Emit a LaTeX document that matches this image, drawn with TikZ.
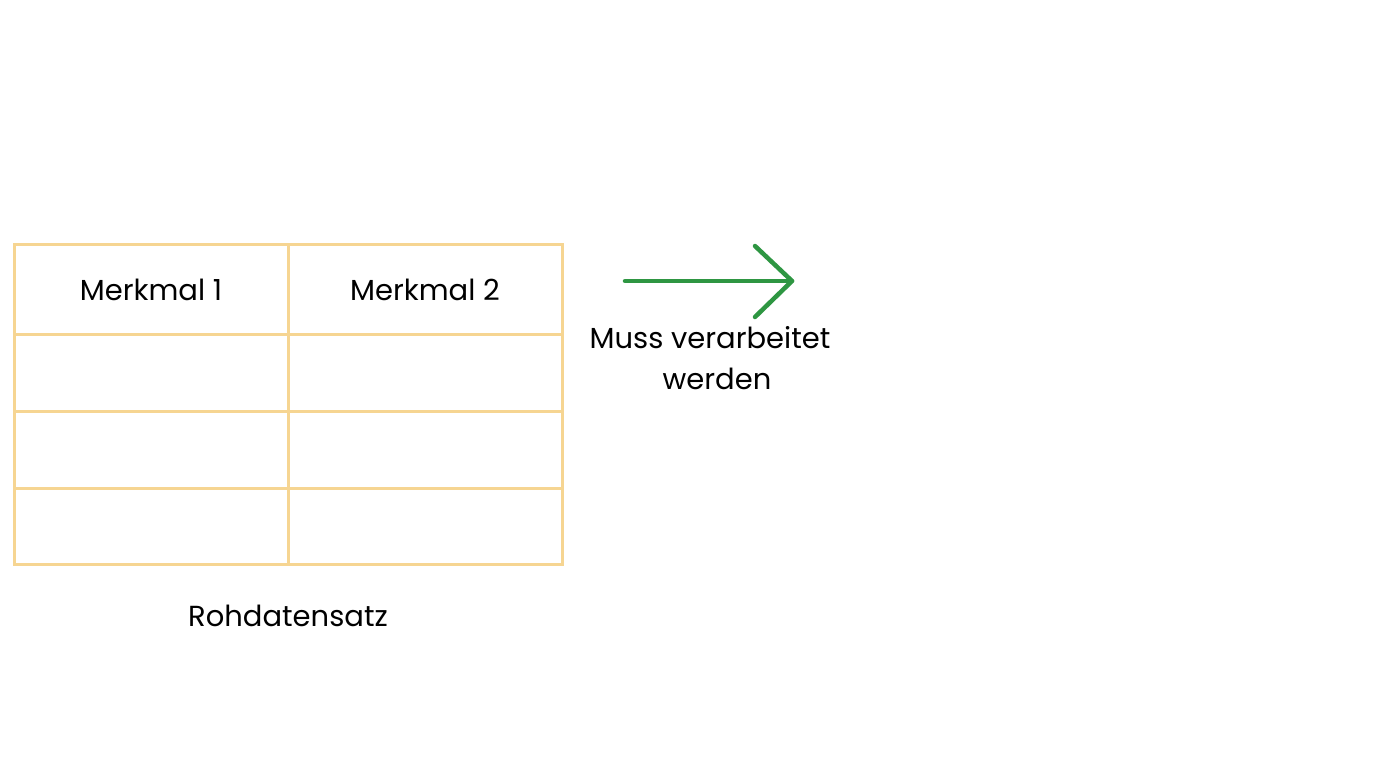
\documentclass[tikz,border=0pt]{standalone}
\usepackage{fontspec}
\setmainfont{Poppins}
\definecolor{tabline}{HTML}{F6D592}
\definecolor{arrgreen}{HTML}{2E9642}
\begin{document}
\begin{tikzpicture}[x=1pt,y=-1pt,
  grid/.style={draw=tabline,line width=3pt},
  lbl/.style={font=\fontsize{29}{41}\selectfont,text=black,inner sep=0pt},
  arr/.style={draw=arrgreen,line width=4.5pt,line cap=round,line join=round}]
\useasboundingbox (0,0) rectangle (1376,768);
\fill[white] (0,0) rectangle (1376,768);
% table
\draw[grid] (14,244) rectangle (562,564);
\draw[grid] (288,244) -- (288,564);
\draw[grid] (14,334) -- (562,334);
\draw[grid] (14,411) -- (562,411);
\draw[grid] (14,488) -- (562,488);
\node[lbl] (m1) at (151,290) {Merkmal 1};
\node[lbl] (m2) at (425,290) {Merkmal 2};
\node[lbl] (roh) at (288,616) {Rohdatensatz};
% arrow
\coordinate (a0) at (625,281);
\coordinate (a1) at (792,281);
\coordinate (t1) at (755,246);
\coordinate (t2) at (755,317);
\draw[arr] (a0) -- (a1);
\draw[arr] (t1) -- (a1) -- (t2);
\node[lbl,align=center] (muss) at (710,358) {Muss verarbeitet\\ \hspace*{14pt}werden};
\end{tikzpicture}
\end{document}
